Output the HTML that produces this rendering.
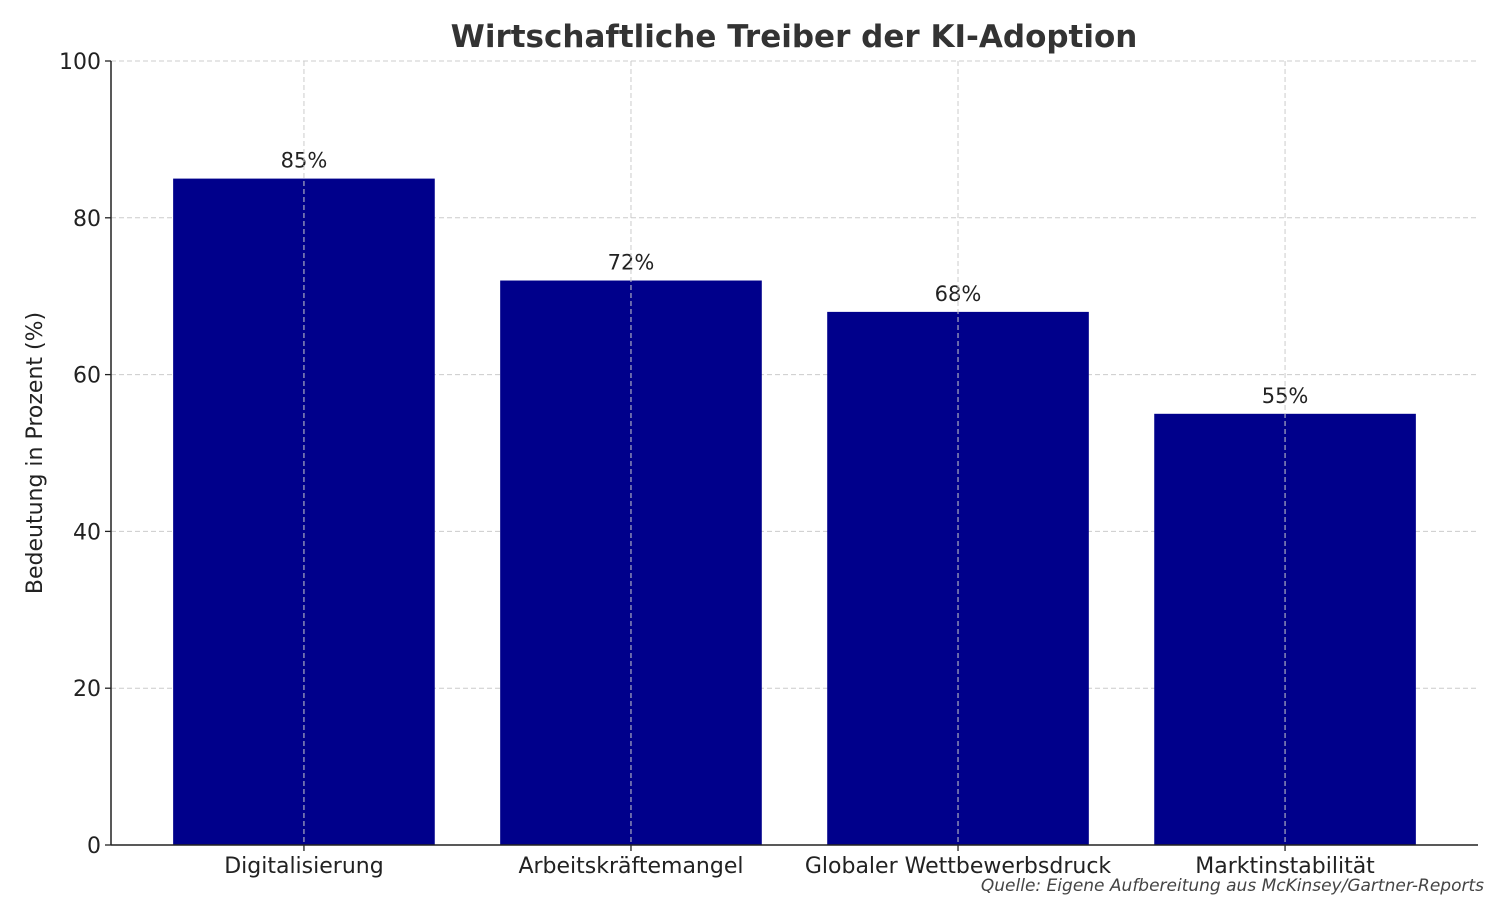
<!DOCTYPE html>
<html><head><meta charset="utf-8"><style>
html,body{margin:0;padding:0;background:#fff;}
svg{display:block;font-family:"DejaVu Sans","Liberation Sans",sans-serif;}
</style></head><body>
<svg id="chart" width="1500" height="900" viewBox="0 0 1500 900">
<text x="794" y="47" text-anchor="middle" font-size="31" font-weight="bold" fill="#333">Wirtschaftliche Treiber der KI-Adoption</text>
<g id="grid"></g><g id="bars"></g><g id="axes"></g>
<text transform="translate(42,453) rotate(-90)" text-anchor="middle" font-size="22" fill="#222">Bedeutung in Prozent (%)</text>
<text x="1484" y="891" text-anchor="end" font-size="17" font-style="italic" fill="#444">Quelle: Eigene Aufbereitung aus McKinsey/Gartner-Reports</text>
</svg>
<script>
const categories=["Digitalisierung","Arbeitskräftemangel","Globaler Wettbewerbsdruck","Marktinstabilität"];
const values=[85,72,68,55];
const valueLabels=["85%","72%","68%","55%"];
const yTicks=[0,20,40,60,80,100];
const L=111,R=1478,T=61,B=845;
const xs=i=>L+(i+0.59)*(R-L)/(categories.length-1+1.18);
const step=(R-L)/(categories.length-1+1.18);
const ys=v=>B-(v/100)*(B-T);
const NS="http://www.w3.org/2000/svg";
function mk(tag,attrs,parent){const e=document.createElementNS(NS,tag);for(const k in attrs)e.setAttribute(k,attrs[k]);parent.appendChild(e);return e;}
const grid=document.getElementById('grid'),bars=document.getElementById('bars'),axes=document.getElementById('axes');
yTicks.forEach(t=>{
 const g=mk('line',{x1:L,x2:R,y1:ys(t),y2:ys(t),stroke:'#ccc','stroke-width':1,'stroke-dasharray':'5,3'},grid);
 
 
 const tk=mk('line',{x1:L-6,x2:L,y1:ys(t),y2:ys(t),stroke:'#222','stroke-width':1.3},axes);
 
 
 const lb=mk('text',{x:L-10,y:ys(t)+8,'text-anchor':'end','font-size':22,fill:'#222'},axes);
 lb.textContent=t;
 
 
});
categories.forEach((c,i)=>{
 const cx=xs(i),w=step*0.8;
 const b=mk('rect',{x:cx-w/2,y:ys(values[i]),width:w,height:B-ys(values[i]),fill:'#00008b'},bars);
 
 
 const vl=mk('text',{x:cx,y:ys(values[i])-11,'text-anchor':'middle','font-size':21,fill:'#222'},bars);
 vl.textContent=valueLabels[i];
 
 
 const g=mk('line',{x1:cx,x2:cx,y1:T,y2:B,stroke:'#ccc','stroke-width':1,'stroke-dasharray':'5,3'},bars);
 
 
 const tk=mk('line',{x1:cx,x2:cx,y1:B,y2:B+6,stroke:'#222','stroke-width':1.3},axes);
 
 
 const lb=mk('text',{x:cx,y:B+28,'text-anchor':'middle','font-size':22,fill:'#222'},axes);
 lb.textContent=c;
 
 
});
const ax1=mk('line',{x1:L,x2:L,y1:T,y2:B,stroke:'#222','stroke-width':1.5},axes);


const ax2=mk('line',{x1:L,x2:R,y1:B,y2:B,stroke:'#222','stroke-width':1.5},axes);


</script>
</body></html>
